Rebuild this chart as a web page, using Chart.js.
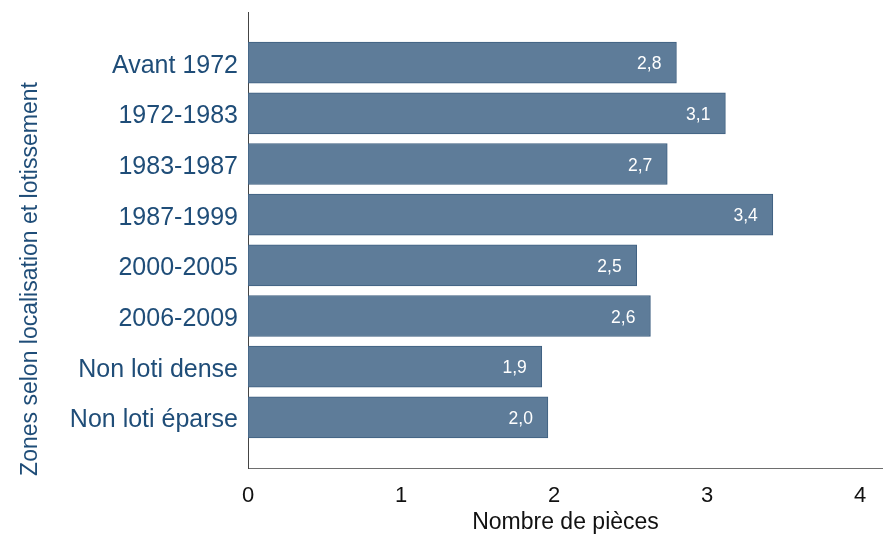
<!DOCTYPE html>
<html>
<head>
<meta charset="utf-8">
<script src="https://cdn.jsdelivr.net/npm/chart.js@4/dist/chart.umd.min.js"></script>
<style>
  html, body { margin: 0; padding: 0; background: #ffffff; }
  #wrap { width: 883px; height: 536px; position: relative; }
</style>
</head>
<body>
<div id="wrap"><canvas id="c" width="883" height="536"></canvas></div>
<script>
const categories = ["Avant 1972", "1972-1983", "1983-1987", "1987-1999", "2000-2005", "2006-2009", "Non loti dense", "Non loti éparse"];
const values = [2.80, 3.12, 2.74, 3.43, 2.54, 2.63, 1.92, 1.96];
const xTicks = [0, 1, 2, 3, 4];
const xTitle = "Nombre de pièces";
const yTitle = "Zones selon localisation et lotissement";

const FONT = "'Liberation Sans', Arial, Helvetica, sans-serif";
const BLUE_TEXT = "#1f4d78";

// pad with empty slots so categories sit on interior grid positions
const labels = [""].concat(categories, [""]);
const data = [null].concat(values, [null]);

const valueLabels = {
  id: "valueLabels",
  afterDatasetsDraw(chart) {
    const ctx = chart.ctx;
    const meta = chart.getDatasetMeta(0);
    ctx.save();
    ctx.font = "17.5px " + FONT;
    ctx.fillStyle = "#ffffff";
    ctx.textAlign = "right";
    ctx.textBaseline = "middle";
    meta.data.forEach((bar, i) => {
      const v = data[i];
      if (v === null || v === undefined) return;
      const txt = v.toFixed(1).replace(".", ",");
      ctx.fillText(txt, bar.x - 15, bar.y + 2);
    });
    ctx.restore();
  }
};

const sideTitle = {
  id: "sideTitle",
  afterDraw(chart) {
    const ctx = chart.ctx;
    ctx.save();
    ctx.translate(37, 279);
    ctx.rotate(-Math.PI / 2);
    ctx.font = "23px " + FONT;
    ctx.fillStyle = BLUE_TEXT;
    ctx.textAlign = "center";
    ctx.textBaseline = "alphabetic";
    ctx.fillText(yTitle, 0, 0);
    ctx.restore();
  }
};

new Chart(document.getElementById("c"), {
  type: "bar",
  data: {
    labels: labels,
    datasets: [{
      data: data,
      backgroundColor: "#5e7c99",
      borderColor: "#3e5f80",
      borderWidth: 1,
      borderSkipped: false,
      barThickness: 41
    }]
  },
  options: {
    indexAxis: "y",
    responsive: false,
    animation: false,
    devicePixelRatio: 1,
    layout: { padding: { top: 0, right: 0, left: 0, bottom: 0 } },
    plugins: {
      legend: { display: false },
      tooltip: { enabled: false },
      title: { display: false }
    },
    scales: {
      x: {
        type: "linear",
        min: 0,
        max: 4.15,
        afterBuildTicks(scale) {
          scale.ticks = xTicks.map(v => ({ value: v }));
        },
        afterFit(scale) { scale.height = 68; },
        grid: { display: false, drawTicks: false },
        border: { display: true, color: "#6e6e6e", width: 1 },
        ticks: {
          color: "#111111",
          font: { family: FONT, size: 22 },
          padding: 15,
          callback: (v) => String(v)
        },
        title: {
          display: true,
          text: xTitle,
          color: "#111111",
          font: { family: FONT, size: 23 },
          padding: { top: 0, bottom: 0 }
        }
      },
      y: {
        type: "category",
        offset: false,
        afterFit(scale) {
          scale.width = 248;
          scale.paddingTop = 12;
        },
        grid: { display: false, drawTicks: false },
        border: { display: true, color: "#444444", width: 1 },
        ticks: {
          color: BLUE_TEXT,
          font: { family: FONT, size: 25 },
          padding: 10,
          labelOffset: 3,
          autoSkip: false
        }
      }
    }
  },
  plugins: [valueLabels, sideTitle]
});
</script>
</body>
</html>
